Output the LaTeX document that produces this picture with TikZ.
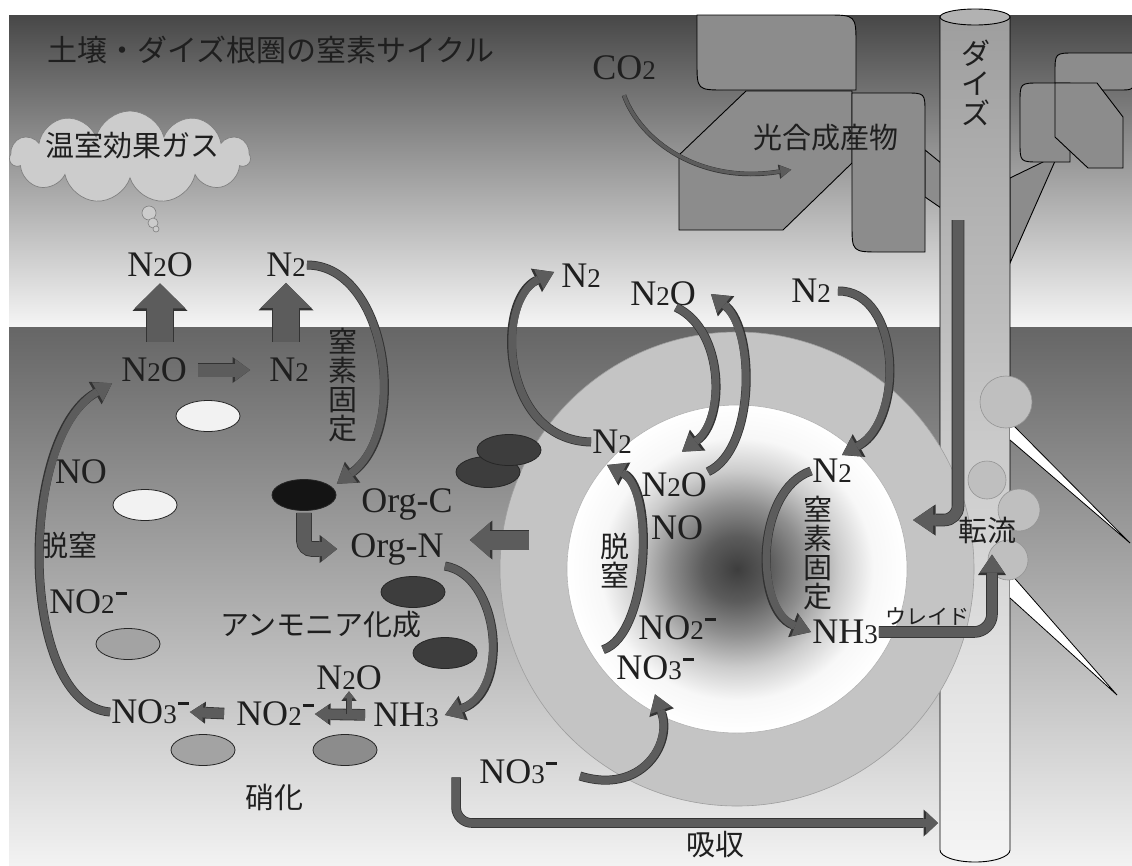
\documentclass[tikz,border=0pt]{standalone}
\usepackage{fontspec}
\setmainfont{Liberation Serif}
\newfontfamily\jp{Noto Sans CJK JP}
\usetikzlibrary{arrows.meta,shapes.geometric,shapes.symbols}

\definecolor{ink}{gray}{0.12}
\definecolor{skytop}{gray}{0.28}
\definecolor{skylow}{gray}{0.96}
\definecolor{soiltop}{gray}{0.40}
\definecolor{soillow}{gray}{0.95}
\definecolor{leafgray}{gray}{0.55}
\definecolor{stemtop}{gray}{0.62}
\definecolor{stemlow}{gray}{0.96}
\definecolor{ringgray}{gray}{0.77}
\definecolor{arrowfill}{gray}{0.36}
\definecolor{celldark}{gray}{0.24}
\definecolor{cellmid}{gray}{0.64}
\definecolor{cellmidd}{gray}{0.55}

\pgfdeclareradialshading{rootzone}{\pgfpoint{0bp}{0bp}}{color(0bp)=(black!76); color(5bp)=(black!64); color(10bp)=(black!44); color(15bp)=(black!20); color(20bp)=(black!3); color(25bp)=(white); color(50bp)=(white)}

\newcommand{\lab}{\fontsize{36}{36}\selectfont}
\newcommand{\jpf}{\jp\fontsize{29}{29}\selectfont}
\newcommand{\dg}[1]{{\fontsize{27}{27}\selectfont #1}}
\newcommand{\ionminus}{\hspace{1pt}\rule[19pt]{11pt}{2.5pt}}

\tikzset{
  chem/.style={font=\lab, text=ink, inner sep=1pt},
  jtext/.style={font=\jpf, text=ink, inner sep=1pt},
  vtext/.style={font=\jpf, text=ink, inner sep=1pt, align=center},
  cell/.style={ellipse, draw=black!85, line width=0.8pt, minimum width=64pt, minimum height=31pt, inner sep=0pt},
  leaf/.style={fill=leafgray, draw=black, line width=0.9pt},
  root/.style={fill=white, draw=black, line width=0.8pt},
  nodule/.style={circle, fill=black!25, draw=black!42, line width=0.6pt, inner sep=0pt},
  puff/.style={circle, fill=black!20, draw=black!50, line width=0.6pt, inner sep=0pt},
  flow/.style={draw=arrowfill, line width=7.5pt, -{Triangle[width=22pt,length=17pt,line width=0pt]},
    preaction={draw=black!80, line width=9pt, -{Triangle[width=26pt,length=19.5pt,line width=0pt]}}},
  thinflow/.style={draw=arrowfill, line width=3.5pt, -{Triangle[width=12pt,length=11pt,line width=0pt]},
    preaction={draw=black!80, line width=4.6pt, -{Triangle[width=14.5pt,length=12.5pt,line width=0pt]}}},
  blk/.code n args={3}{%
    \pgfmathsetmacro\blkline{#1+1.6}%
    \pgfmathsetmacro\blkwidth{#2+4}%
    \pgfmathsetmacro\blklength{#3+2.5}%
    \tikzset{draw=arrowfill, line width=#1pt,
      -{Triangle[width=#2pt,length=#3pt,line width=0pt]},
      preaction={draw=black!80, line width=\blkline pt,
        -{Triangle[width=\blkwidth pt,length=\blklength pt,line width=0pt]}}}%
  }
}

\begin{document}
\begin{tikzpicture}[x=1pt, y=1pt]
  \useasboundingbox (0,0) rectangle (1132,-865);
  \fill[white] (0,0) rectangle (1132,-865);
  \shade[top color=skytop, bottom color=skylow] (9,-15) rectangle (1132,-327);
  \shade[top color=soiltop, bottom color=soillow] (9,-327) rectangle (1132,-865);

  \draw[leaf] (697,-15) -- (826,-15) .. controls (856,-15) .. (856,-45) -- (856,-90) -- (725,-90) .. controls (697,-90) .. (697,-62) -- cycle;
  \draw[leaf] (746,-91) -- (852,-91) -- (852,-163) -- (783,-230) -- (679,-230) -- (679,-155) -- cycle;
  \draw[leaf] (925,-150) -- (941,-163) -- (941,-208) -- (925,-197) -- cycle;
  \draw[leaf] (852,-93) -- (905,-93) .. controls (925,-93) .. (925,-113) -- (925,-252) -- (881,-252) .. controls (852,-252) .. (852,-224) -- cycle;
  \draw[leaf] (1010,-178) -- (1043,-162) -- (1063,-143) -- (1010,-263) -- cycle;
  \draw[leaf] (1075,-53) -- (1134,-53) -- (1134,-75) .. controls (1134,-90) .. (1119,-90) -- (1055,-90) -- (1055,-73) .. controls (1055,-53) .. (1075,-53) -- cycle;
  \draw[leaf] (1020,-103) .. controls (1020,-83) .. (1040,-83) -- (1070,-83) -- (1070,-162) -- (1040,-162) .. controls (1020,-162) .. (1020,-142) -- cycle;
  \draw[leaf] (1055,-83) -- (1097,-83) -- (1123,-117) -- (1123,-168) -- (1088,-168) -- (1055,-137) -- cycle;

  \draw[top color=stemtop, bottom color=stemlow, draw=black, line width=0.9pt] (940,-17) -- (940,-850) arc[start angle=180, end angle=360, x radius=35, y radius=12] -- (1010,-17) -- cycle;
  \draw[fill=black!30, line width=0.9pt] (975,-17) ellipse[x radius=35, y radius=8];

  \draw[root] (1010,-422) -- (1130,-543) -- (1010,-440);
  \draw[root] (1010,-573) -- (1117,-695) -- (1010,-598);
  \node[nodule, minimum size=52pt] (nod1) at (1006,-402) {};
  \node[nodule, minimum size=38pt] (nod2) at (987,-480) {};
  \node[nodule, minimum size=42pt] (nod3) at (1019,-510) {};
  \node[nodule, minimum size=40pt] (nod4) at (1008,-560) {};

  \node[circle, minimum size=474pt, fill=ringgray, draw=black!38, line width=0.6pt] (ring) at (737,-569) {};
  \node[ellipse, minimum width=340pt, minimum height=328pt, shade, shading=rootzone, draw=black!30, line width=0.6pt] (zone) at (737,-569) {};

  \node[cloud, cloud puffs=11, cloud ignores aspect, draw=black!50, fill=black!20, line width=0.7pt, minimum width=240pt, minimum height=92pt, inner sep=0pt] (cloud) at (130,-157) {};
  \node[puff, minimum size=14pt] (puff1) at (149,-213) {};
  \node[puff, minimum size=10pt] (puff2) at (153,-223) {};
  \node[puff, minimum size=6pt] (puff3) at (156,-229) {};

  \node[cell, fill=black!5] (cellA) at (208,-416) {};
  \node[cell, fill=black!5] (cellB) at (145,-505) {};
  \node[cell, fill=black!92] (cellC) at (304,-495) {};
  \node[cell, fill=celldark] (cellD) at (488,-472) {};
  \node[cell, fill=celldark] (cellE) at (509,-450) {};
  \node[cell, fill=celldark] (cellF) at (413,-592) {};
  \node[cell, fill=celldark] (cellG) at (445,-653) {};
  \node[cell, fill=cellmid] (cellH) at (128,-644) {};
  \node[cell, fill=cellmid] (cellI) at (203,-750) {};
  \node[cell, fill=cellmidd] (cellJ) at (345,-750) {};

  \node[jtext, font=\jp\fontsize{30}{30}\selectfont, anchor=west] (title) at (46,-50) {土壌・ダイズ根圏の窒素サイクル};
  \node[jtext] (ghg) at (132,-146) {温室効果ガス};
  \node[chem] (co2) at (624,-68) {CO\dg{2}};
  \node[jtext] (photo) at (826,-138) {光合成産物};
  \node[vtext, font=\jp\fontsize{29}{30}\selectfont] (soy) at (976,-83) {ダ\\イ\\ズ};

  \node[chem] (n2oUp) at (160,-265) {N\dg{2}O};
  \node[chem] (n2Up) at (286,-265) {N\dg{2}};
  \node[chem] (n2oS) at (154,-370) {N\dg{2}O};
  \node[chem] (n2S) at (289,-370) {N\dg{2}};
  \node[vtext] (fixS) at (343,-385) {窒\\素\\固\\定};
  \node[chem] (noS) at (81,-472) {NO};
  \node[jtext] (denS) at (68,-545) {脱窒};
  \node[chem] (no2S) at (88,-602) {NO\dg{2}\ionminus};
  \node[chem] (orgc) at (407,-504) {Org-C};
  \node[chem] (orgn) at (397,-549) {Org-N};
  \node[jtext] (ammon) at (321,-625) {アンモニア化成};
  \node[chem] (n2oN) at (349,-678) {N\dg{2}O};
  \node[chem] (no3S) at (150,-712) {NO\dg{3}\ionminus};
  \node[chem] (no2N) at (275,-714) {NO\dg{2}\ionminus};
  \node[chem] (nh3S) at (406,-715) {NH\dg{3}};
  \node[jtext] (nitr) at (274,-797) {硝化};
  \node[chem] (no3R) at (518,-772) {NO\dg{3}\ionminus};
  \node[jtext] (uptake) at (715,-845) {吸収};

  \node[chem] (n2a) at (581,-276) {N\dg{2}};
  \node[chem] (n2ob) at (663,-294) {N\dg{2}O};
  \node[chem] (n2b) at (811,-291) {N\dg{2}};
  \node[chem] (n2in) at (612,-442) {N\dg{2}};
  \node[chem] (n2oin) at (674,-485) {N\dg{2}O};
  \node[chem] (noin) at (677,-528) {NO};
  \node[vtext] (denR) at (615,-561) {脱\\窒};
  \node[chem] (no2in) at (677,-628) {NO\dg{2}\ionminus};
  \node[chem] (no3in) at (655,-668) {NO\dg{3}\ionminus};
  \node[chem] (n2fx) at (832,-471) {N\dg{2}};
  \node[vtext] (fixR) at (818,-553) {窒\\素\\固\\定};
  \node[chem] (nh3in) at (845,-632) {NH\dg{3}};
  \node[jtext, font=\jp\fontsize{21}{21}\selectfont] (ureide) at (927,-617) {ウレイド};
  \node[jtext] (transl) at (987,-530) {転流};

  \coordinate (ringin) at (529,-540);
  \coordinate (phloem) at (958,-220);
  \coordinate (phloemout) at (913,-520);
  \coordinate (stemin) at (938,-823);

  \draw[blk={26}{51}{25}, shorten <=15pt, shorten >=5pt] (n2oUp.south |- n2oS.north) -- (n2oUp.south);
  \draw[blk={26}{51}{25}, shorten <=15pt, shorten >=5pt] (n2Up.south |- n2S.north) -- (n2Up.south);
  \draw[blk={13}{22}{15}, shorten <=10pt, shorten >=18pt] (n2oS.east) -- (n2S.west);
  \draw[blk={14}{24}{15}, rounded corners=8pt, shorten <=2pt, shorten >=12pt] (cellC.south) |- (orgn.west);
  \draw[blk={19}{35}{20}] (ringin) -- ([xshift=25pt]orgn.east |- ringin);
  \draw[blk={10}{18}{13}, shorten <=11pt] (no2N.west) -- (no3S.east);
  \draw[blk={10}{18}{13}, shorten <=7pt] (nh3S.west) -- (no2N.east);
  \draw[blk={5}{11}{7}] (n2oN.south |- no2N.east) -- (n2oN.south);
  \draw[blk={10}{24}{18}, rounded corners=18pt, shorten >=10pt] (nh3in.east) -| ([xshift=5pt]transl.south);
  \draw[blk={11}{27}{20}, rounded corners=14pt] (phloem) |- (phloemout);
  \draw[blk={8}{23}{12}, rounded corners=16pt] ([xshift=-22pt,yshift=8pt]no3R.south west) |- (stemin);

  \draw[flow] (n2Up.east) .. controls +(80,0) and +(73,54) .. ([xshift=10pt]cellC.north east);
  \draw[flow] (orgn.south east) .. controls +(55,-9) and +(66,25) .. ([xshift=5pt]nh3S.east);
  \draw[flow] (no3S.west) .. controls +(-91,7) and +(-95,-55) .. ([xshift=-8pt]n2oS.south west);
  \draw[flow] (n2in.west) .. controls +(-91,2) and +(-59,-28) .. ([xshift=-6pt,yshift=4pt]n2a.west);
  \draw[flow] ([xshift=13pt]n2ob.south) .. controls +(49,-23) and +(43,32) .. ([xshift=8pt,yshift=20pt]n2oin.north);
  \draw[flow] (n2oin.north east) .. controls +(48,22) and +(44,-36) .. ([xshift=14pt]n2ob.east);
  \draw[flow] ([xshift=6pt]n2b.east) .. controls +(63,1) and +(63,35) .. ([xshift=10pt,yshift=3pt]n2fx.north);
  \draw[flow] ([xshift=-12pt,yshift=5pt]no3in.north west) .. controls +(46,15) and +(48,-25) .. ([xshift=16pt,yshift=-10pt]n2in.south west);
  \draw[flow] (n2fx.west) .. controls +(-56,-19) and +(-57,22) .. (nh3in.west);
  \draw[flow] ([xshift=22pt,yshift=-4pt]no3R.east) .. controls +(61,-19) and +(18,-50) .. ([yshift=-13pt]no3in.south);
  \draw[thinflow] ([yshift=-14pt]co2.south) .. controls +(16,-45) and +(-92,-15) .. ([xshift=39pt,yshift=-17pt]photo.south west);
\end{tikzpicture}
\end{document}
